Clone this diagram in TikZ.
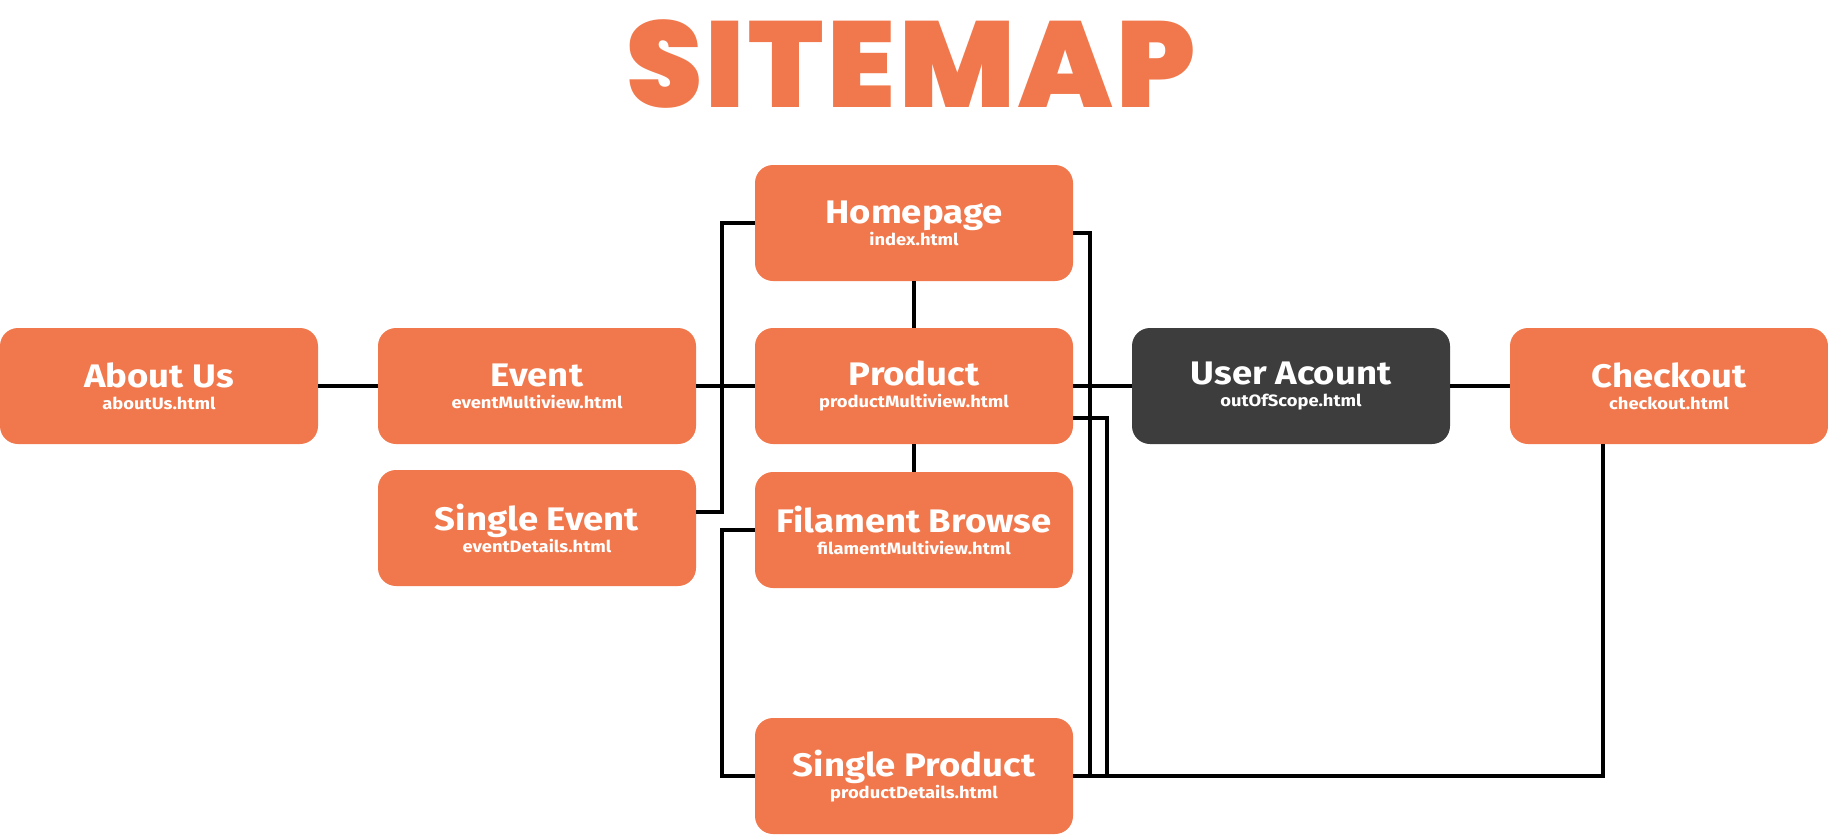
\documentclass[tikz,border=0pt]{standalone}
\usepackage{fontspec}
\setmainfont{Fira Sans}[BoldFont={Fira Sans Bold}, BoldFeatures={FakeStretch=1.12}]
\newfontfamily\titlefont{Poppins}[UprightFont={* Black}, LetterSpace=3]
\usetikzlibrary{positioning}
\definecolor{orng}{RGB}{241,120,76}
\definecolor{dgray}{RGB}{61,61,61}
\tikzset{
  page/.style={rounded corners=9pt, fill=orng, minimum width=159pt, minimum height=58pt,
    align=center, text=white, inner sep=0pt, font=\bfseries},
  darkpage/.style={page, fill=dgray},
  link/.style={line width=2pt, black},
}
\newcommand{\pg}[2]{{\fontsize{16.3}{15}\selectfont #1}\\[-1pt]{\fontsize{8.2}{8}\selectfont #2}}
\begin{document}
\begin{tikzpicture}[x=0.5pt,y=-0.5pt]
\useasboundingbox (0,0) rectangle (1828,836);
\node[text=orng, font=\titlefont\fontsize{61}{61}\selectfont] (title) at (911,64) {SITEMAP};
\node[page] (about) at (159,386) {\pg{About Us}{aboutUs.html}};
\node[page] (event) at (537,386) {\pg{Event}{eventMultiview.html}};
\node[page] (sevent) at (537,528) {\pg{Single Event}{eventDetails.html}};
\node[page] (home) at (914,223) {\pg{Homepage}{index.html}};
\node[page] (product) at (914,386) {\pg{Product}{productMultiview.html}};
\node[page] (filament) at (914,530) {\pg{Filament Browse}{filamentMultiview.html}};
\node[page] (sproduct) at (914,776) {\pg{Single Product}{productDetails.html}};
\node[darkpage] (user) at (1291,386) {\pg{User Acount}{outOfScope.html}};
\node[page] (checkout) at (1669,386) {\pg{Checkout}{checkout.html}};
\draw[link] (about.east) -- (event.west);
\draw[link] (event.east) -- (product.west);
\draw[link] (home.west) -- ++(-33,0) |- ([yshift=8pt]sevent.east);
\draw[link] (home.south) -- (product.north);
\draw[link] (product.south) -- (filament.north);
\draw[link] (filament.west) -- ++(-33,0) |- (sproduct.west);
\draw[link] ([yshift=-5pt]home.east) -- ++(17,0) |- (sproduct.east);
\draw[link] ([yshift=-16pt]product.east) -- ++(34,0) |- (sproduct.east);
\draw[link] (product.east) -- (user.west);
\draw[link] (user.east) -- (checkout.west);
\draw[link] ([xshift=-33pt]checkout.south) |- (sproduct.east);
\end{tikzpicture}
\end{document}
